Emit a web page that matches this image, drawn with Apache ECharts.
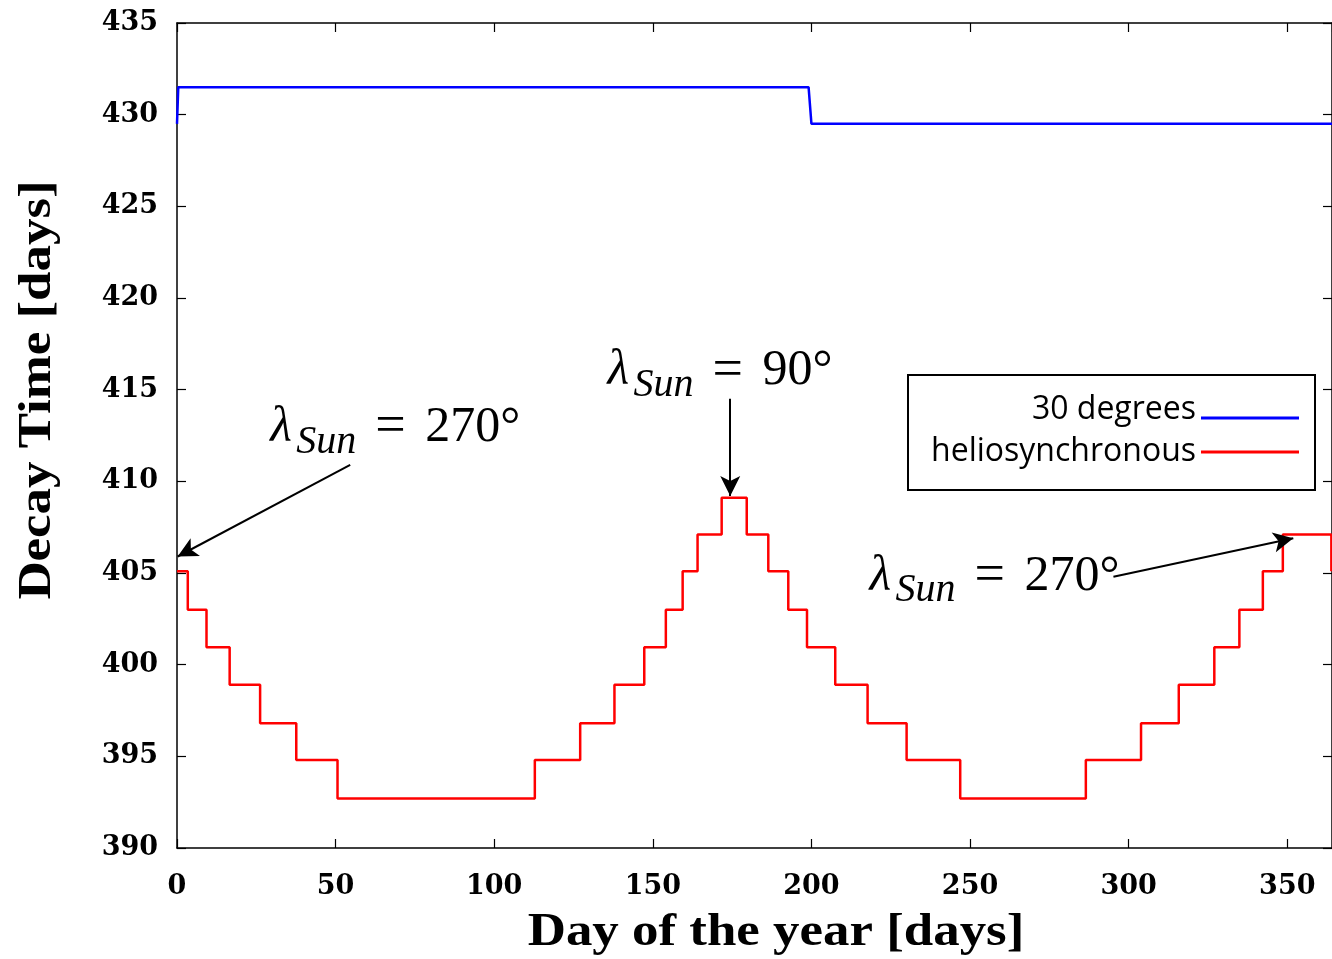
<!DOCTYPE html>
<html>
<head>
<meta charset="utf-8">
<title>Decay Time</title>
<script src="https://cdn.jsdelivr.net/npm/echarts@6/dist/echarts.min.js"></script>
<style>
html, body { margin: 0; padding: 0; background: #fff; }
#myChart { width: 1332px; height: 959px; }
</style>
</head>
<body>
<div id="myChart"></div>
<script>
// axis ranges (day of year / decay time)
var dayRange = [0, 364.1];
var dayStep = 50;
var decayRange = [390, 435];
var decayStep = 5;

// 30 degrees orbit
var blueDays = [0, 0.4, 199.1, 200.0, 364.1];
var blueDecay = [429.5, 431.5, 431.5, 429.5, 429.5];

// heliosynchronous orbit, level starts at each day (step line)
var redDays = [0, 3.4, 9.3, 16.6, 26.2, 37.6, 50.6, 112.8, 127.1, 137.9, 147.3, 154.1, 159.4, 164.1, 171.7,
  179.6, 186.4, 192.7, 198.6, 207.5, 217.7, 230.0, 246.9, 286.5, 303.9, 315.8, 327.0, 334.9, 342.3, 348.6, 363.9, 364.1];
var redDecay = [405.1, 403.0, 400.95, 398.9, 396.8, 394.8, 392.7, 394.8, 396.8, 398.9, 400.95, 403.0, 405.1, 407.1, 409.1,
  407.1, 405.1, 403.0, 400.95, 398.9, 396.8, 394.8, 392.7, 394.8, 396.8, 398.9, 400.95, 403.0, 405.1, 407.1, 405.1, 405.1];

// solar longitude notes: label anchor and arrow (tail -> head), in data units
var noteText = ['270°', '90°', '270°'];
var noteAt = [[29.4, 412.9], [135.7, 416.0], [218.3, 404.8]];
var arrowFrom = [[54.6, 410.9], [174.4, 414.5], [295.2, 404.8]];
var arrowTo = [[0.2, 405.9], [174.4, 409.2], [351.9, 406.9]];

function zip(a, b) {
  var out = [];
  for (var i = 0; i < a.length; i++) out.push([a[i], b[i]]);
  return out;
}

var arrows = [];
for (var i = 0; i < arrowFrom.length; i++) {
  arrows.push([
    { coord: arrowFrom[i], symbol: 'none' },
    { coord: arrowTo[i], symbol: 'arrow', symbolSize: [15, 20] }
  ]);
}

var tickFont = { color: '#000', fontFamily: 'DejaVu Serif', fontWeight: 'bold', fontSize: 27 };
var frameLine = { show: true, onZero: false, lineStyle: { color: '#000', width: 1.5 } };
var tickIn = { show: true, inside: true, length: 9, lineStyle: { color: '#000', width: 1.2 } };

var legendFont = { color: '#000', fontFamily: 'Open Sans', fontSize: 32, lineHeight: 36 };
// first entry: line sits on the text baseline, so the icon box is taller with the bar at its bottom
var lowBar = 'path://M0,0h0.01v0.01h-0.01z M0,16h98v3h-98z';

var option = {
  animation: false,
  backgroundColor: '#fff',
  grid: { left: 177, top: 23, right: -1, bottom: 111 },
  legend: [
    { data: ['30 degrees'], right: 33, top: 392, padding: 0, align: 'right', icon: lowBar,
      itemWidth: 98, itemHeight: 19, textStyle: legendFont },
    { data: ['heliosynchronous'], right: 33, top: 434, padding: 0, align: 'right', icon: 'rect',
      itemWidth: 98, itemHeight: 3, textStyle: legendFont }
  ],
  xAxis: [
    { type: 'value', position: 'bottom', min: dayRange[0], max: dayRange[1], interval: dayStep,
      axisLine: frameLine, axisTick: tickIn, splitLine: { show: false },
      axisLabel: Object.assign({ margin: 25, showMaxLabel: false }, tickFont) },
    { type: 'value', position: 'top', min: dayRange[0], max: dayRange[1], interval: dayStep,
      axisLine: frameLine, axisTick: tickIn, splitLine: { show: false }, axisLabel: { show: false } }
  ],
  yAxis: [
    { type: 'value', position: 'left', min: decayRange[0], max: decayRange[1], interval: decayStep,
      axisLine: frameLine, axisTick: tickIn, splitLine: { show: false },
      axisLabel: Object.assign({ margin: 19 }, tickFont) },
    { type: 'value', position: 'right', min: decayRange[0], max: decayRange[1], interval: decayStep,
      axisLine: frameLine, axisTick: tickIn, splitLine: { show: false }, axisLabel: { show: false } }
  ],
  series: [
    { name: '30 degrees', type: 'line', symbol: 'none', color: '#0000ff',
      lineStyle: { width: 2.5, color: '#0000ff' }, data: zip(blueDays, blueDecay) },
    { name: 'heliosynchronous', type: 'line', symbol: 'none', step: 'end', color: '#ff0000',
      lineStyle: { width: 2.5, color: '#ff0000' }, data: zip(redDays, redDecay),
      markLine: { silent: true, symbol: ['none', 'arrow'], label: { show: false },
        lineStyle: { color: '#000', width: 2, type: 'solid' },
        emphasis: { disabled: true }, data: arrows } }
  ]
};

var myChart = echarts.init(document.getElementById('myChart'));
myChart.setOption(option);

// text parts: lambda, subscript, equals, value
function note(p, value) {
  var serif = '"Liberation Serif"';
  return {
    type: 'group', x: p[0], y: p[1],
    children: [
      { type: 'text', x: 0, y: 0, style: { text: 'λ', font: 'italic 50px ' + serif, fill: '#000', verticalAlign: 'middle' } },
      { type: 'text', x: 26, y: 14, style: { text: 'Sun', font: 'italic 40px ' + serif, fill: '#000', verticalAlign: 'middle' } },
      { type: 'text', x: 105, y: 0, style: { text: '=', font: '54px ' + serif, fill: '#000', verticalAlign: 'middle' } },
      { type: 'text', x: 155, y: 0, style: { text: value, font: '50px ' + serif, fill: '#000', verticalAlign: 'middle' } }
    ]
  };
}

var graphics = [
  { type: 'rect', shape: { x: 908, y: 375, width: 407, height: 115 }, z: 0,
    style: { fill: '#fff', stroke: '#000', lineWidth: 2 } },
  { type: 'text', x: 38, y: 390, rotation: Math.PI / 2, scaleX: 1.15,
    style: { text: 'Decay Time [days]', font: 'bold 46px "Liberation Serif"', fill: '#000', align: 'center', verticalAlign: 'middle' } },
  { type: 'text', x: 776, y: 933, scaleX: 1.15,
    style: { text: 'Day of the year [days]', font: 'bold 46px "Liberation Serif"', fill: '#000', align: 'center', verticalAlign: 'middle' } }
];
for (var k = 0; k < noteAt.length; k++) {
  graphics.push(note(myChart.convertToPixel({ gridIndex: 0 }, noteAt[k]), noteText[k]));
}
myChart.setOption({ graphic: graphics });
</script>
</body>
</html>
